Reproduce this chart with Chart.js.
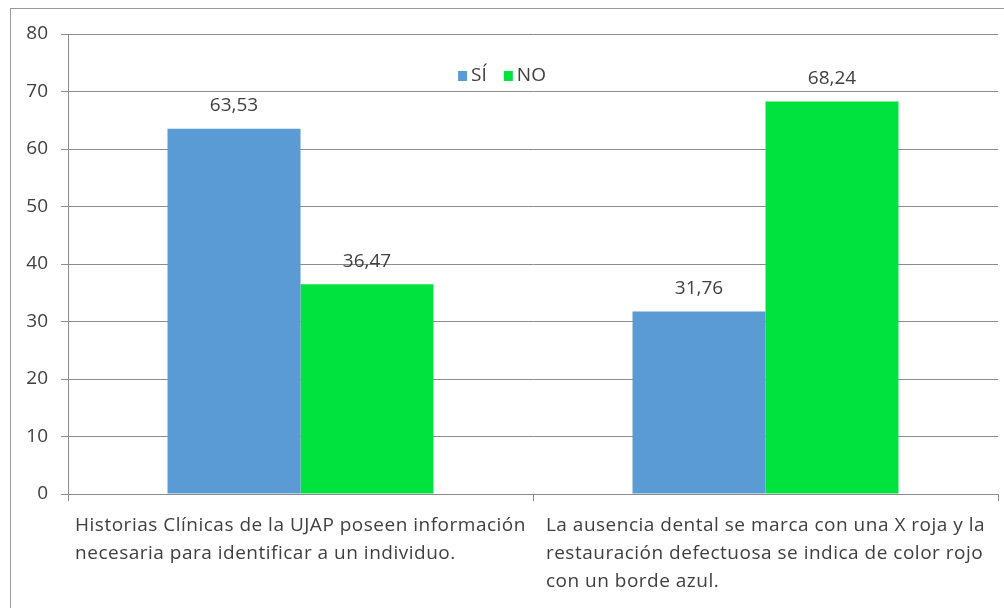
<!DOCTYPE html>
<html>
<head>
<meta charset="utf-8">
<script src="https://cdn.jsdelivr.net/npm/chart.js@4"></script>
<style>
  html, body { margin: 0; padding: 0; background: #fff; }
  #wrap { position: relative; width: 1004px; height: 608px; overflow: hidden; }
  #frame { position: absolute; left: 10px; top: 8px; width: 1200px; height: 800px;
           border-left: 1px solid #9a9a9a; border-top: 1px solid #9a9a9a; }
  #chart { position: absolute; left: 0; top: 0; }
</style>
</head>
<body>
<div id="wrap">
  <div id="frame"></div>
  <canvas id="chart" width="1004" height="608"></canvas>
</div>
<script>
const categories = [
    ['Historias Clínicas de la UJAP poseen información', 'necesaria para identificar a un individuo.'],
    ['La ausencia dental se marca con una X roja y la', 'restauración defectuosa se indica de color rojo', 'con un borde azul.']
];
const siValues = [63.53, 31.76];
const noValues = [36.47, 68.24];
const yTicks = [0, 10, 20, 30, 40, 50, 60, 70, 80];

const textColor = '#404040';
const gridColor = '#8c8c8c';
const fontFamily = '"Open Sans", "Noto Sans", sans-serif';
const fontSize = 19;

function fmt(v) {
    return v.toFixed(2).replace('.', ',');
}

// numbers above every bar
const barLabels = {
    id: 'barLabels',
    afterDatasetsDraw(chart) {
        const ctx = chart.ctx;
        ctx.save();
        ctx.font = fontSize + 'px ' + fontFamily;
        ctx.fillStyle = textColor;
        ctx.textAlign = 'center';
        ctx.textBaseline = 'middle';
        chart.data.datasets.forEach((ds, i) => {
            chart.getDatasetMeta(i).data.forEach((bar, j) => {
                ctx.fillText(fmt(ds.data[j]), bar.x, bar.y - 23);
            });
        });
        ctx.restore();
    }
};

// category labels: block centred on the category, lines left aligned
const categoryLabels = {
    id: 'categoryLabels',
    afterDraw(chart) {
        const ctx = chart.ctx;
        const xs = chart.scales.x;
        ctx.save();
        ctx.font = fontSize + 'px ' + fontFamily;
        ctx.letterSpacing = '0.5px';
        ctx.fillStyle = textColor;
        ctx.textAlign = 'left';
        ctx.textBaseline = 'middle';
        categories.forEach((lines, i) => {
            const w = Math.max(...lines.map(l => ctx.measureText(l).width));
            const x = xs.getPixelForValue(i) - w / 2;
            lines.forEach((line, k) => {
                ctx.fillText(line, x, xs.top + 32 + k * 28);
            });
        });
        ctx.restore();
    }
};

// legend drawn inside the plot, near the top
const innerLegend = {
    id: 'innerLegend',
    afterDraw(chart) {
        const ctx = chart.ctx;
        ctx.save();
        ctx.font = fontSize + 'px ' + fontFamily;
        ctx.textBaseline = 'middle';
        ctx.textAlign = 'left';
        const box = 9, gap = 4, spacing = 17;
        const items = chart.data.datasets.map(ds => ({ text: ds.label, color: ds.backgroundColor }));
        let total = 0;
        items.forEach((it, i) => {
            total += box + gap + ctx.measureText(it.text).width + (i < items.length - 1 ? spacing : 0);
        });
        let x = chart.width / 2 - total / 2;
        const y = 76;
        items.forEach(it => {
            ctx.fillStyle = it.color;
            ctx.fillRect(x, y - 5, box, 10);
            x += box + gap;
            ctx.fillStyle = textColor;
            ctx.fillText(it.text, x, y);
            x += ctx.measureText(it.text).width + spacing;
        });
        ctx.restore();
    }
};

const ctx = document.getElementById('chart').getContext('2d');
const chart = new Chart(ctx, {
    type: 'bar',
    data: {
        labels: categories,
        datasets: [
            { label: 'SÍ', data: siValues, backgroundColor: '#5B9BD5', borderWidth: 0 },
            { label: 'NO', data: noValues, backgroundColor: '#00E33F', borderWidth: 0 }
        ]
    },
    options: {
        responsive: false,
        animation: false,
        devicePixelRatio: 1,
        categoryPercentage: 0.572,
        barPercentage: 1,
        layout: { padding: { left: 10, right: 6, top: 34, bottom: 0 } },
        plugins: {
            legend: { display: false },
            tooltip: { enabled: false }
        },
        scales: {
            x: {
                offset: true,
                afterFit: scale => { scale.height = 114; },
                grid: { offset: true, drawOnChartArea: false, drawTicks: true, tickLength: 7, color: gridColor },
                border: { display: true, color: gridColor },
                ticks: { display: false }
            },
            y: {
                min: 0,
                max: 80,
                afterFit: scale => { scale.width = 58; },
                afterBuildTicks: scale => { scale.ticks = yTicks.map(v => ({ value: v })); },
                grid: { color: gridColor, tickLength: 7 },
                border: { display: true, color: gridColor },
                ticks: {
                    padding: 13,
                    color: textColor,
                    font: { family: fontFamily, size: fontSize }
                }
            }
        }
    },
    plugins: [barLabels, categoryLabels, innerLegend]
});
</script>
</body>
</html>
